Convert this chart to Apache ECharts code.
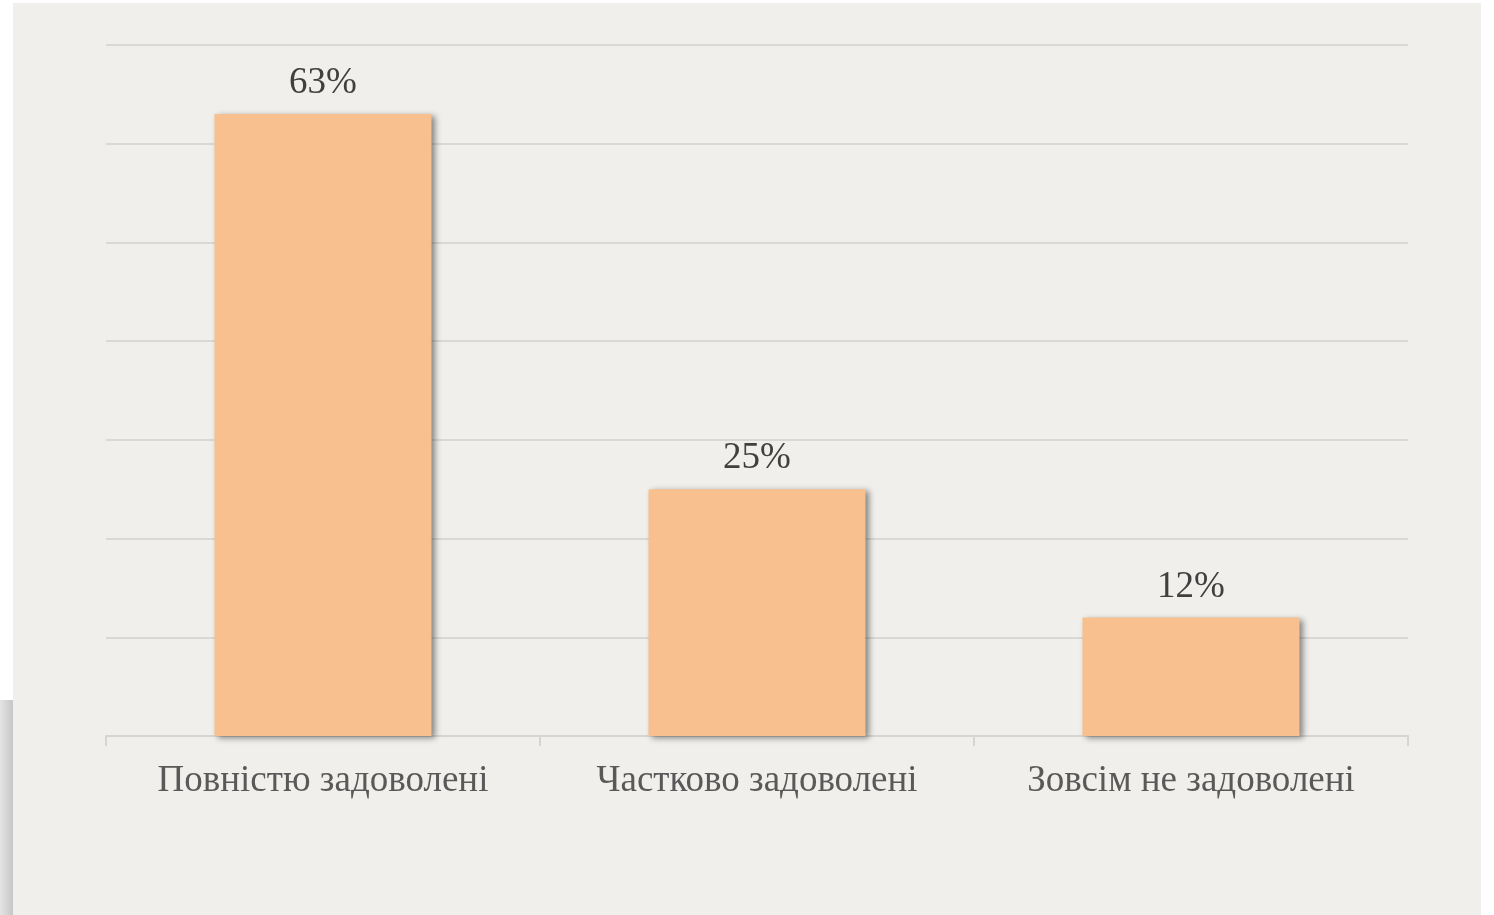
<!DOCTYPE html>
<html>
<head>
<meta charset="utf-8">
<script src="https://cdn.jsdelivr.net/npm/echarts@6/dist/echarts.min.js"></script>
<style>
    html, body { margin: 0; padding: 0; background: #ffffff; }
    #panel { position: absolute; left: 13px; top: 3px; width: 1468px; height: 912px; background: #f0efeb; }
    #edge { position: absolute; left: 0; top: 700px; width: 13px; height: 215px;
            background: linear-gradient(to right, #e4e4e4, #c6c6c6); }
    #chart { position: absolute; left: 0; top: 0; width: 1494px; height: 915px; }
</style>
</head>
<body>
<div id="edge"></div>
<div id="panel"></div>
<div id="chart"></div>
<script>
    // категорії та значення (у відсотках)
    const categories = ['Повністю задоволені', 'Частково задоволені', 'Зовсім не задоволені'];
    const values = [63, 25, 12];
    const axisMax = 70;
    const axisStep = 10;

    const serif = '"Liberation Serif", "Times New Roman", "DejaVu Serif", serif';

    const chart = echarts.init(document.getElementById('chart'));
    chart.setOption({
        backgroundColor: 'transparent',
        animation: false,
        grid: {
            left: 106,
            right: 86,
            top: 45,
            bottom: 179,
            containLabel: false
        },
        xAxis: {
            type: 'category',
            data: categories,
            axisLine: { lineStyle: { color: '#d6d5d3', width: 2 } },
            axisTick: { show: true, length: 10, lineStyle: { color: '#d6d5d3', width: 2 } },
            axisLabel: {
                color: '#595959',
                fontFamily: serif,
                fontSize: 37,
                margin: 27
            }
        },
        yAxis: {
            type: 'value',
            min: 0,
            max: axisMax,
            interval: axisStep,
            axisLine: { show: false },
            axisTick: { show: false },
            axisLabel: { show: false },
            splitLine: { lineStyle: { color: '#d9d8d5', width: 2 } }
        },
        series: [{
            type: 'bar',
            data: values,
            barWidth: '50%',
            itemStyle: {
                color: '#f9c08f',
                shadowColor: 'rgba(0,0,0,0.45)',
                shadowBlur: 6,
                shadowOffsetX: 3,
                shadowOffsetY: 2
            },
            label: {
                show: true,
                position: 'top',
                distance: 12,
                color: '#404040',
                fontFamily: serif,
                fontSize: 37,
                formatter: p => p.value + '%'
            }
        }]
    });
</script>
</body>
</html>
